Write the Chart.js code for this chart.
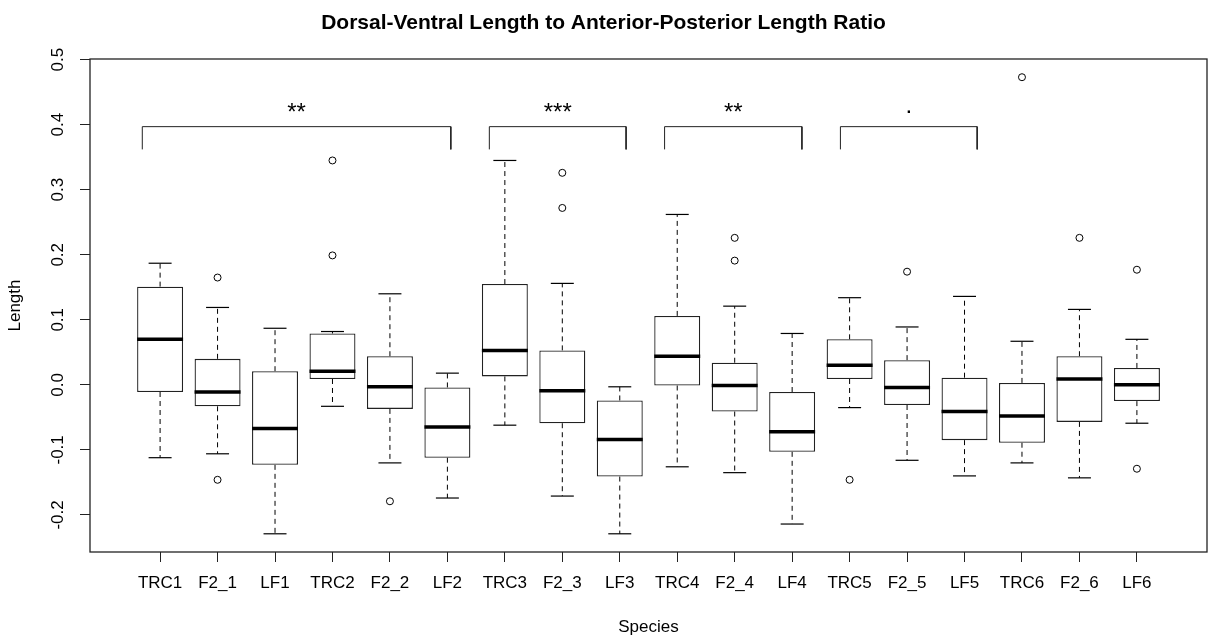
<!DOCTYPE html>
<html lang="en">
  <head>
    <meta charset="UTF-8" />
    <title>Dorsal-Ventral Length to Anterior-Posterior Length Ratio</title>
    <script src="https://cdn.jsdelivr.net/npm/chart.js"></script>
    <style>
      body { margin: 0; background: #fff; }
      #box { width: 1208px; height: 641px; }
    </style>
  </head>
  <body>
    <div id="box"><canvas id="ratioChart" width="1208" height="641"></canvas></div>

    <script>
      // groups on the x axis
      const categories = ["TRC1", "F2_1", "LF1", "TRC2", "F2_2", "LF2", "TRC3", "F2_3", "LF3",
        "TRC4", "F2_4", "LF4", "TRC5", "F2_5", "LF5", "TRC6", "F2_6", "LF6"];

      // five-number summaries
      const whiskerLow = [-0.112, -0.106, -0.229, -0.033, -0.120, -0.174, -0.062, -0.171, -0.229,
        -0.126, -0.135, -0.214, -0.035, -0.116, -0.140, -0.120, -0.143, -0.059];
      const q1 = [-0.011, -0.033, -0.123, 0.009, -0.037, -0.112, 0.013, -0.059, -0.141,
        -0.001, -0.041, -0.103, 0.009, -0.031, -0.085, -0.089, -0.057, -0.025];
      const median = [0.070, -0.011, -0.067, 0.021, -0.003, -0.065, 0.053, -0.009, -0.084,
        0.044, -0.001, -0.072, 0.030, -0.004, -0.041, -0.048, 0.009, 0.000];
      const q3 = [0.151, 0.040, 0.021, 0.079, 0.044, -0.004, 0.155, 0.053, -0.024,
        0.106, 0.034, -0.011, 0.070, 0.038, 0.011, 0.003, 0.044, 0.026];
      const whiskerHigh = [0.187, 0.119, 0.087, 0.082, 0.140, 0.018, 0.345, 0.156, -0.003,
        0.262, 0.121, 0.079, 0.134, 0.089, 0.136, 0.067, 0.116, 0.070];

      // outliers
      const outlierGroup = ["F2_1", "F2_1", "TRC2", "TRC2", "F2_2", "F2_3", "F2_3", "F2_4", "F2_4",
        "TRC5", "F2_5", "TRC6", "F2_6", "LF6", "LF6"];
      const outlierValue = [0.165, -0.146, 0.345, 0.199, -0.179, 0.326, 0.272, 0.226, 0.191,
        -0.146, 0.174, 0.473, 0.226, 0.177, -0.129];

      // significance brackets (x in group units, y in data units)
      const sigLabels = ["**", "***", "**", "."];
      const sigFrom = [0.69, 6.73, 9.78, 12.84];
      const sigTo = [6.06, 9.11, 12.17, 15.22];
      const sigTop = 0.397;
      const sigLeg = 0.362;
      const sigTextY = [0.427, 0.427, 0.427, 0.421];

      const yTicks = [-0.2, -0.1, 0.0, 0.1, 0.2, 0.3, 0.4, 0.5];
      const xRange = [-0.22, 19.22];
      const yRange = [-0.257, 0.501];

      const FONT = "'Liberation Sans', Arial, sans-serif";

      const pos = (name) => categories.indexOf(name) + 1;

      // data for the library
      const boxData = categories.map((c, i) => ({ x: i + 1, y: [q1[i], q3[i]] }));
      const medianData = categories.map((c, i) => ({ x: i + 1, y: median[i] }));
      const stapleData = [];
      const whiskerData = [];
      categories.forEach((c, i) => {
        stapleData.push({ x: i + 1, y: whiskerHigh[i] }, { x: i + 1, y: whiskerLow[i] });
        whiskerData.push(
          { x: i + 1, y: q3[i] }, { x: i + 1, y: whiskerHigh[i] }, { x: i + 1, y: null },
          { x: i + 1, y: q1[i] }, { x: i + 1, y: whiskerLow[i] }, { x: i + 1, y: null }
        );
      });
      const outlierData = outlierGroup.map((g, i) => ({ x: pos(g), y: outlierValue[i] }));
      const bracketData = [];
      sigLabels.forEach((s, i) => {
        bracketData.push(
          { x: sigFrom[i], y: sigLeg }, { x: sigFrom[i], y: sigTop },
          { x: sigTo[i], y: sigTop }, { x: sigTo[i], y: sigLeg }, { x: sigTo[i], y: null }
        );
      });

      // half width in pixels of a span given in x units
      function halfPx(chart, units) {
        const s = chart.scales.x;
        return Math.abs(s.getPixelForValue(1 + units / 2) - s.getPixelForValue(1));
      }

      // frame round the plot region, like R's box()
      const framePlugin = {
        id: "frame",
        afterDraw(chart) {
          const { ctx, chartArea: a } = chart;
          ctx.save();
          ctx.strokeStyle = "#222";
          ctx.lineWidth = 1.3;
          ctx.strokeRect(a.left, a.top, a.right - a.left, a.bottom - a.top);
          ctx.restore();
        },
      };

      // significance marks above the brackets
      const sigPlugin = {
        id: "sigText",
        afterDatasetsDraw(chart) {
          const { ctx, scales } = chart;
          ctx.save();
          ctx.fillStyle = "#000";
          ctx.font = "24px " + FONT;
          ctx.textAlign = "center";
          ctx.textBaseline = "alphabetic";
          sigLabels.forEach((s, i) => {
            const m = ctx.measureText(s);
            const x = scales.x.getPixelForValue((sigFrom[i] + sigTo[i]) / 2);
            const y = scales.y.getPixelForValue(sigTextY[i]);
            const off = (m.actualBoundingBoxAscent - m.actualBoundingBoxDescent) / 2;
            ctx.fillText(s, x, y + off);
          });
          ctx.restore();
        },
      };

      new Chart(document.getElementById("ratioChart"), {
        type: "bar",
        data: {
          datasets: [
            {
              type: "line",
              data: whiskerData,
              borderColor: "#000",
              borderWidth: 1,
              borderDash: [5, 4],
              pointRadius: 0,
              spanGaps: false,
              order: 5,
            },
            {
              type: "bar",
              data: boxData,
              backgroundColor: "#fff",
              borderColor: "#222",
              borderWidth: 1.3,
              borderSkipped: false,
              categoryPercentage: 1,
              barPercentage: 0.8,
              order: 4,
            },
            {
              type: "scatter",
              data: outlierData,
              pointStyle: "circle",
              pointRadius: 3.5,
              backgroundColor: "#fff",
              borderColor: "#000",
              borderWidth: 1,
              order: 3,
            },
            {
              type: "scatter",
              data: stapleData,
              pointStyle: "line",
              pointRadius: (c) => halfPx(c.chart, 0.4),
              borderColor: "#000",
              borderWidth: 1.2,
              order: 2,
            },
            {
              type: "scatter",
              data: medianData,
              pointStyle: "line",
              pointRadius: (c) => halfPx(c.chart, 0.8),
              borderColor: "#000",
              borderWidth: 3.5,
              order: 1,
            },
            {
              type: "line",
              data: bracketData,
              borderColor: "#222",
              borderWidth: 1,
              pointRadius: 0,
              spanGaps: false,
              order: 6,
            },
          ],
        },
        options: {
          responsive: false,
          animation: false,
          devicePixelRatio: 1,
          layout: { autoPadding: false, padding: { top: 0, right: 1, bottom: 0, left: 0 } },
          plugins: {
            legend: { display: false },
            tooltip: { enabled: false },
            title: {
              display: true,
              text: "Dorsal-Ventral Length to Anterior-Posterior Length Ratio",
              color: "#000",
              font: { family: FONT, size: 21, weight: "bold" },
              padding: { top: 11, bottom: 22.8 },
            },
          },
          scales: {
            x: {
              type: "linear",
              min: xRange[0],
              max: xRange[1],
              offset: false,
              afterBuildTicks: (s) => {
                s.ticks = categories.map((c, i) => ({ value: i + 1 }));
              },
              afterFit: (s) => {
                s.height = 89;
                s.paddingLeft = 0;
                s.paddingRight = 0;
              },
              grid: {
                offset: false,
                drawOnChartArea: false,
                drawTicks: true,
                tickLength: 10,
                tickColor: "#222",
                tickWidth: 1,
              },
              border: { display: false },
              ticks: {
                autoSkip: false,
                maxRotation: 0,
                padding: 11,
                color: "#000",
                font: { family: FONT, size: 17 },
                callback: (v) => categories[v - 1],
              },
              title: {
                display: true,
                text: "Species",
                color: "#000",
                font: { family: FONT, size: 17 },
                padding: { top: 0, bottom: 3.5 },
              },
            },
            y: {
              type: "linear",
              min: yRange[0],
              max: yRange[1],
              afterBuildTicks: (s) => {
                s.ticks = yTicks.map((v) => ({ value: v }));
              },
              afterFit: (s) => {
                s.width = 90;
                s.paddingTop = 0;
                s.paddingBottom = 0;
              },
              grid: {
                drawOnChartArea: false,
                drawTicks: true,
                tickLength: 10,
                tickColor: "#222",
                tickWidth: 1,
              },
              border: { display: false },
              ticks: {
                autoSkip: false,
                minRotation: 90,
                maxRotation: 90,
                crossAlign: "center",
                padding: 7,
                color: "#000",
                font: { family: FONT, size: 17 },
                callback: (v) => v.toFixed(1),
              },
              title: {
                display: true,
                text: "Length",
                color: "#000",
                font: { family: FONT, size: 17 },
                padding: { top: 5.5, bottom: 0 },
              },
            },
          },
        },
        plugins: [framePlugin, sigPlugin],
      });
    </script>
  </body>
</html>
